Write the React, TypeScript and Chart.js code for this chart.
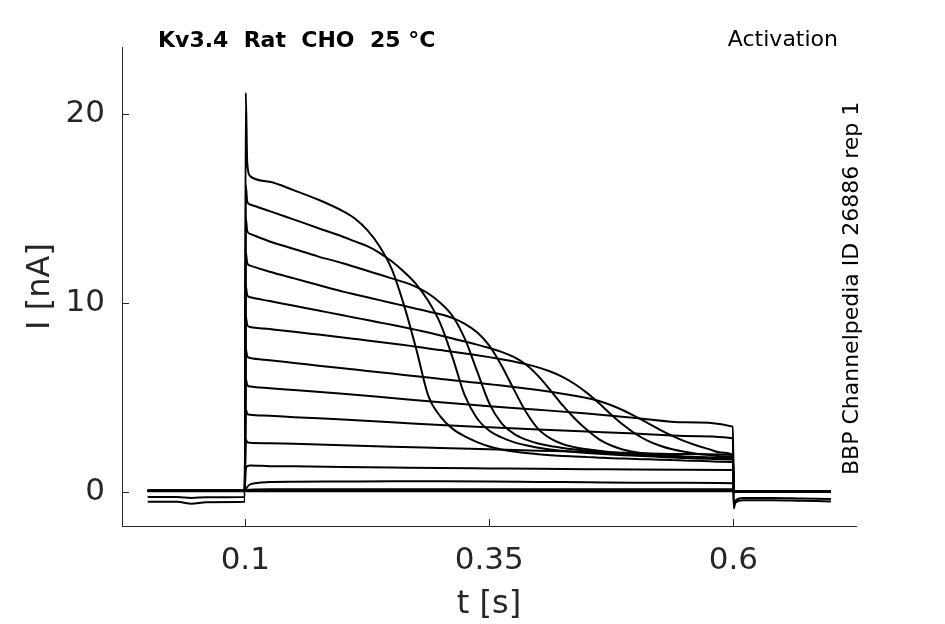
import React, { useEffect, useRef } from 'react';
import { Chart, registerables } from 'chart.js';
import type { ChartConfiguration, Plugin } from 'chart.js';

Chart.register(...registerables);

// time bases [s]: fine one for the inactivating sweeps, coarse one for the flat ones
const tFine = [
  0, 0.03, 0.045, 0.06, 0.0995, 0.1005, 0.102, 0.105, 0.125, 0.15, 0.175, 0.2,
  0.2125, 0.225, 0.2375, 0.25, 0.2625, 0.275, 0.2875, 0.3, 0.3125, 0.325, 0.3375,
  0.35, 0.3625, 0.375, 0.3875, 0.4, 0.4125, 0.425, 0.4375, 0.45, 0.4625, 0.475,
  0.4875, 0.5, 0.5125, 0.525, 0.5375, 0.55, 0.5625, 0.575, 0.5875, 0.5995,
  0.6005, 0.602, 0.61, 0.64, 0.67, 0.7,
];
const tCoarse = [
  0, 0.03, 0.045, 0.06, 0.0995, 0.1005, 0.102, 0.105, 0.125, 0.15, 0.2, 0.25,
  0.3, 0.35, 0.4, 0.45, 0.5, 0.55, 0.5995, 0.6005, 0.602, 0.61, 0.64, 0.67, 0.7,
];

// current [nA], one array per voltage step (largest first)
const sweep1 = [
  -0.5, -0.5, -0.6, -0.52, -0.5, 21.1, 17.4, 16.7, 16.4, 15.95, 15.45, 14.85,
  14.45, 13.85, 13.0, 11.8, 9.9, 7.6, 5.1, 4.0, 3.35, 2.95, 2.65,
  2.42, 2.26, 2.15, 2.07, 2.01, 1.96, 1.92, 1.89, 1.86, 1.83, 1.8,
  1.78, 1.76, 1.74, 1.72, 1.7, 1.68, 1.66, 1.64, 1.62, 1.6,
  -0.85, -0.55, -0.42, -0.42, -0.45, -0.48,
];
const sweep2 = [
  -0.25, -0.25, -0.3, -0.26, -0.25, 16.2, 15.35, 15.2, 14.85, 14.4, 13.95, 13.5,
  13.25, 13.0, 12.65, 12.2, 11.65, 11.0, 10.1, 8.9, 7.1, 5.1, 3.9,
  3.25, 2.9, 2.65, 2.48, 2.35, 2.26, 2.19, 2.13, 2.08, 2.04, 2.0,
  1.96, 1.93, 1.9, 1.87, 1.84, 1.81, 1.79, 1.77, 1.75, 1.73,
  -0.75, -0.45, -0.3, -0.3, -0.33, -0.36,
];
const sweep3 = [
  0.08, 0.08, 0.08, 0.08, 0.08, 14.5, 13.8, 13.65, 13.25, 12.85, 12.45, 12.1,
  11.9, 11.7, 11.5, 11.3, 11.1, 10.85, 10.5, 10.0, 9.3, 8.1, 6.4,
  4.7, 3.65, 3.1, 2.78, 2.58, 2.44, 2.34, 2.26, 2.19, 2.13, 2.08,
  2.04, 2.0, 1.96, 1.93, 1.9, 1.87, 1.84, 1.81, 1.79, 1.77,
  0.0, 0.03, 0.04, 0.04, 0.04, 0.04,
];
const sweep4 = [
  0.08, 0.08, 0.08, 0.08, 0.08, 12.7, 12.1, 11.97, 11.65, 11.3, 10.95, 10.6,
  10.45, 10.3, 10.15, 10.0, 9.85, 9.7, 9.55, 9.4, 9.2, 8.9, 8.45,
  7.75, 6.7, 5.45, 4.25, 3.35, 2.85, 2.55, 2.38, 2.27, 2.19, 2.12,
  2.06, 2.01, 1.97, 1.93, 1.9, 1.87, 1.84, 1.82, 1.8, 1.78,
  0.0, 0.03, 0.04, 0.04, 0.04, 0.04,
];
const sweep5 = [
  0.08, 0.08, 0.08, 0.08, 0.08, 10.9, 10.4, 10.3, 10.1, 9.85, 9.6, 9.35,
  9.22, 9.1, 8.97, 8.85, 8.72, 8.58, 8.44, 8.28, 8.12, 7.96, 7.8,
  7.62, 7.42, 7.15, 6.75, 6.15, 5.4, 4.6, 3.9, 3.3, 2.8, 2.47,
  2.25, 2.12, 2.03, 1.97, 1.93, 1.89, 1.86, 1.84, 1.82, 1.8,
  0.0, 0.03, 0.04, 0.04, 0.04, 0.04,
];
const sweep6 = [
  0.08, 0.08, 0.08, 0.08, 0.08, 9.3, 8.83, 8.73, 8.62, 8.48, 8.33, 8.18,
  8.1, 8.02, 7.94, 7.86, 7.78, 7.69, 7.6, 7.51, 7.42, 7.33, 7.24,
  7.14, 7.03, 6.91, 6.77, 6.6, 6.38, 6.1, 5.72, 5.25, 4.7, 4.1,
  3.55, 3.08, 2.72, 2.46, 2.27, 2.14, 2.04, 1.97, 1.91, 1.86,
  0.0, 0.03, 0.04, 0.04, 0.04, 0.04,
];
const sweep7 = [
  0.08, 0.08, 0.08, 0.08, 0.08, 7.6, 7.18, 7.09, 6.97, 6.83, 6.69, 6.55,
  6.48, 6.41, 6.34, 6.27, 6.2, 6.13, 6.06, 5.99, 5.92, 5.85, 5.78,
  5.71, 5.64, 5.56, 5.48, 5.4, 5.31, 5.21, 5.1, 4.98, 4.82, 4.6,
  4.32, 4.0, 3.65, 3.3, 2.98, 2.7, 2.47, 2.28, 2.1, 1.97,
  0.0, 0.03, 0.04, 0.04, 0.04, 0.04,
];
const sweep8 = [
  0.08, 0.08, 0.08, 0.08, 0.08, 6.0, 5.66, 5.59, 5.5, 5.4, 5.2, 4.98,
  4.76, 4.55, 4.36, 4.16, 3.93, 3.7, 3.47, 0.0, 0.03, 0.04, 0.04, 0.04, 0.04,
];
const sweep9 = [
  0.08, 0.08, 0.08, 0.08, 0.08, 4.4, 4.15, 4.09, 4.04, 3.97, 3.84, 3.7,
  3.55, 3.43, 3.32, 3.21, 3.1, 2.98, 2.86, 0.0, 0.03, 0.04, 0.04, 0.04, 0.04,
];
const sweep10 = [
  0.08, 0.08, 0.08, 0.08, 0.08, 2.8, 2.65, 2.62, 2.59, 2.56, 2.49, 2.41,
  2.34, 2.27, 2.2, 2.13, 2.07, 2.02, 1.97, 0.0, 0.03, 0.04, 0.04, 0.04, 0.04,
];
const sweep11 = [
  0.08, 0.08, 0.08, 0.08, 0.08, 1.2, 1.38, 1.42, 1.38, 1.37, 1.34, 1.31,
  1.28, 1.26, 1.24, 1.22, 1.2, 1.19, 1.18, 0.02, 0.03, 0.04, 0.04, 0.04, 0.04,
];
const sweep12 = [
  0.08, 0.08, 0.08, 0.08, 0.08, 0.15, 0.28, 0.42, 0.54, 0.56, 0.57, 0.58,
  0.58, 0.57, 0.55, 0.53, 0.51, 0.5, 0.48, 0.02, 0.03, 0.04, 0.04, 0.04, 0.04,
];
const sweep13 = [
  0.08, 0.08, 0.08, 0.08, 0.08, 0.12, 0.12, 0.14, 0.16, 0.16, 0.16, 0.16,
  0.16, 0.16, 0.16, 0.16, 0.16, 0.16, 0.16, 0.02, 0.03, 0.04, 0.04, 0.04, 0.04,
];
const sweep14 = [
  0.07, 0.07, 0.07, 0.07, 0.07, 0.09, 0.09, 0.1, 0.1, 0.1, 0.1, 0.1,
  0.1, 0.1, 0.1, 0.1, 0.1, 0.1, 0.1, 0.02, 0.02, 0.03, 0.03, 0.03, 0.03,
];
const sweep15 = [
  0.06, 0.06, 0.06, 0.06, 0.06, 0.07, 0.06, 0.06, 0.06, 0.06, 0.06, 0.06,
  0.06, 0.06, 0.06, 0.06, 0.06, 0.06, 0.06, 0.01, 0.02, 0.02, 0.02, 0.02, 0.02,
];

const xTicks = [0.1, 0.35, 0.6];
const yTicks = [0, 10, 20];

const TITLE = 'Kv3.4  Rat  CHO  25 °C';
const PROTOCOL = 'Activation';
const SOURCE = 'BBP Channelpedia ID 26886 rep 1';

const FONT = '"DejaVu Sans", sans-serif';
const AXIS_COLOR = '#262626';

const toPoints = (t: number[], v: number[]) => t.map((x, i) => ({ x, y: v[i] }));

// tick marks point into the plot area
const inwardTicks: Plugin = {
  id: 'inwardTicks',
  afterDraw(chart) {
    const { ctx, chartArea } = chart;
    const x = chart.scales.x;
    const y = chart.scales.y;
    ctx.save();
    ctx.strokeStyle = AXIS_COLOR;
    ctx.lineWidth = 1;
    ctx.beginPath();
    x.ticks.forEach((t) => {
      const px = Math.round(x.getPixelForValue(t.value)) + 0.5;
      ctx.moveTo(px, chartArea.bottom);
      ctx.lineTo(px, chartArea.bottom - 7);
    });
    y.ticks.forEach((t) => {
      const py = Math.round(y.getPixelForValue(t.value)) + 0.5;
      ctx.moveTo(chartArea.left, py);
      ctx.lineTo(chartArea.left + 7, py);
    });
    ctx.stroke();
    ctx.restore();
  },
};

const annotations: Plugin = {
  id: 'annotations',
  afterDraw(chart) {
    const { ctx } = chart;
    ctx.save();
    ctx.fillStyle = '#000';
    ctx.textBaseline = 'alphabetic';
    ctx.font = `bold 22px ${FONT}`;
    ctx.textAlign = 'left';
    ctx.fillText(TITLE, 158, 47);
    ctx.font = `22px ${FONT}`;
    ctx.textAlign = 'right';
    ctx.fillText(PROTOCOL, 838, 46);
    ctx.translate(858, 475);
    ctx.rotate(-Math.PI / 2);
    ctx.textAlign = 'left';
    ctx.fillText(SOURCE, 0, 0);
    ctx.restore();
  },
};

const App: React.FC = () => {
  const canvasRef = useRef<HTMLCanvasElement>(null);
  const chartRef = useRef<Chart | null>(null);

  useEffect(() => {
    if (!canvasRef.current) return;
    if (chartRef.current) chartRef.current.destroy();

    const fine = [sweep1, sweep2, sweep3, sweep4, sweep5, sweep6, sweep7];
    const coarse = [sweep8, sweep9, sweep10, sweep11, sweep12, sweep13, sweep14, sweep15];
    const datasets = [
      ...fine.map((s, i) => ({ label: `sweep ${i + 1}`, data: toPoints(tFine, s) })),
      ...coarse.map((s, i) => ({ label: `sweep ${i + 8}`, data: toPoints(tCoarse, s) })),
    ].map((d) => ({
      ...d,
      borderColor: '#000',
      borderWidth: 2,
      pointRadius: 0,
      cubicInterpolationMode: 'monotone' as const,
      fill: false,
    }));

    const config: ChartConfiguration<'line'> = {
      type: 'line',
      data: { datasets },
      options: {
        animation: false,
        responsive: true,
        maintainAspectRatio: false,
        layout: { padding: { top: 47, right: 89, left: 0, bottom: 0 } },
        plugins: {
          legend: { display: false },
          tooltip: { enabled: false },
        },
        scales: {
          x: {
            type: 'linear',
            min: -0.0263,
            max: 0.7257,
            afterBuildTicks: (scale) => {
              scale.ticks = xTicks.map((value) => ({ value }));
            },
            afterFit: (scale) => {
              scale.height = 98;
            },
            grid: { display: false, drawTicks: false },
            border: { display: true, color: AXIS_COLOR, width: 1 },
            ticks: {
              color: AXIS_COLOR,
              font: { family: FONT, size: 31 },
              padding: 16,
              maxRotation: 0,
              callback: (v) => String(v),
            },
            title: {
              display: true,
              text: 't [s]',
              color: AXIS_COLOR,
              font: { family: FONT, size: 32 },
              padding: { top: 0, bottom: 0 },
            },
          },
          y: {
            type: 'linear',
            min: -1.78,
            max: 23.52,
            afterBuildTicks: (scale) => {
              scale.ticks = yTicks.map((value) => ({ value }));
            },
            afterFit: (scale) => {
              scale.width = 122;
            },
            grid: { display: false, drawTicks: false },
            border: { display: true, color: AXIS_COLOR, width: 1 },
            ticks: {
              color: AXIS_COLOR,
              font: { family: FONT, size: 31 },
              padding: 17,
              callback: (v) => String(v),
            },
            title: {
              display: true,
              text: 'I [nA]',
              color: AXIS_COLOR,
              font: { family: FONT, size: 32 },
              padding: { top: 21, bottom: 0 },
            },
          },
        },
      },
      plugins: [inwardTicks, annotations],
    };

    chartRef.current = new Chart(canvasRef.current, config);

    return () => {
      if (chartRef.current) {
        chartRef.current.destroy();
        chartRef.current = null;
      }
    };
  }, []);

  return (
    <div style={{ position: 'absolute', left: 0, top: 0, width: 945, height: 624, background: '#fff' }}>
      <canvas ref={canvasRef}></canvas>
    </div>
  );
};

export default App;
